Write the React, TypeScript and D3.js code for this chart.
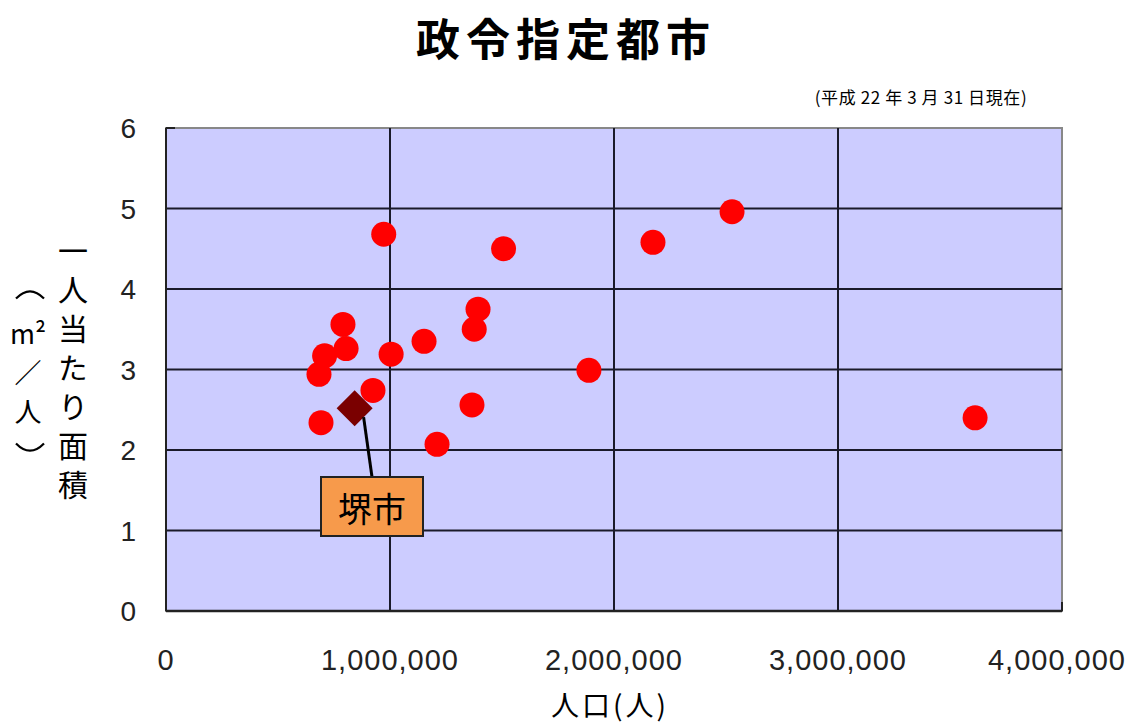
import React from "react";
import * as d3 from "d3";

// Ordinance-designated cities: population vs. per-capita area (m² per person)
const population = [
  683000, 708000, 692000, 790000, 804000, 924000, 972000, 1005000, 1152000,
  1210000, 1366000, 1376000, 1393000, 1507000, 1888000, 2174000, 2527000, 3612000,
];
const areaPerPerson = [
  2.94, 3.17, 2.34, 3.56, 3.26, 2.74, 4.68, 3.19, 3.35,
  2.07, 2.56, 3.50, 3.75, 4.50, 2.99, 4.58, 4.96, 2.40,
];
const sakaiPopulation = [842000];
const sakaiArea = [2.52];
const sakaiLabel = "堺市";

const xTicks = [0, 1000000, 2000000, 3000000, 4000000];
const yTicks = [0, 1, 2, 3, 4, 5, 6];

const title = "政令指定都市";
const note = "(平成 22 年 3 月 31 日現在)";
const xTitle = "人口(人)";
const yTitleMain = "一人当たり面積";
const yTitleUnit = ["m²", "／", "人"];

const W = 1131;
const H = 727;
const plot = { left: 166, right: 1062, top: 128, bottom: 611 };
const cjk = "'Noto Sans CJK JP', 'Noto Sans', sans-serif";
const num = "'Liberation Sans', Arial, sans-serif";

// vertical-form bracket (opening arch above, closing arch below the unit)
function bracket(cx: number, cy: number, up: boolean) {
  const p = d3.path();
  const h = up ? -9 : 9;
  p.moveTo(cx - 14, cy - h / 2);
  p.quadraticCurveTo(cx, cy + h * 1.1, cx + 14, cy - h / 2);
  return p.toString();
}

export default function App() {
  const x = d3.scaleLinear().domain([0, 4000000]).range([plot.left, plot.right]);
  const y = d3.scaleLinear().domain([0, 6]).range([plot.bottom, plot.top]);
  const fmt = d3.format(",");

  const sx = x(sakaiPopulation[0]);
  const sy = y(sakaiArea[0]);
  const d = 18;
  const diamond = `M${sx},${sy - d}L${sx + d},${sy}L${sx},${sy + d}L${sx - d},${sy}Z`;

  const box = { x: 321, y: 477, w: 102, h: 59 };

  return (
    <svg
      width={W}
      height={H}
      style={{ position: "absolute", left: 0, top: 0, display: "block", background: "#fff" }}
    >
      <text x={566} y={56} textAnchor="middle" fontFamily={cjk} fontWeight="bold" fontSize={44} letterSpacing={6} fill="#000">
        {title}
      </text>
      <text x={921} y={104} textAnchor="middle" fontFamily={cjk} fontSize={17} letterSpacing={0.6} fill="#000">
        {note}
      </text>

      <rect x={plot.left} y={plot.top} width={plot.right - plot.left} height={plot.bottom - plot.top} fill="#CCCCFF" stroke="#888" strokeWidth={2} />

      {yTicks.slice(1, -1).map((t) => (
        <line key={"gy" + t} x1={plot.left} x2={plot.right} y1={y(t)} y2={y(t)} stroke="#1a1a2a" strokeWidth={2} />
      ))}
      {xTicks.slice(1, -1).map((t) => (
        <line key={"gx" + t} x1={x(t)} x2={x(t)} y1={plot.top} y2={plot.bottom} stroke="#1a1a2a" strokeWidth={2} />
      ))}
      <line x1={plot.left} x2={plot.left} y1={plot.top} y2={plot.bottom} stroke="#222" strokeWidth={2} />
      <line x1={plot.left} x2={plot.right} y1={plot.bottom} y2={plot.bottom} stroke="#222" strokeWidth={2.5} />
      <line x1={plot.left} x2={plot.left + 9} y1={plot.top} y2={plot.top} stroke="#222" strokeWidth={2} />
      <line x1={plot.right} x2={plot.right} y1={plot.bottom - 9} y2={plot.bottom} stroke="#222" strokeWidth={2} />

      {yTicks.map((t) => (
        <text key={"ty" + t} x={136} y={y(t) + 10} textAnchor="end" fontFamily={num} fontSize={28} fill="#222">
          {t}
        </text>
      ))}
      {xTicks.map((t) => (
        <text
          key={"tx" + t}
          x={x(t) - (t === 4000000 ? 5 : 0)}
          y={670}
          textAnchor="middle"
          fontFamily={num}
          fontSize={29}
          letterSpacing={1}
          fill="#222"
        >
          {fmt(t)}
        </text>
      ))}

      {population.map((p, i) => (
        <circle key={"pt" + i} cx={x(p)} cy={y(areaPerPerson[i])} r={12.5} fill="#FF0000" />
      ))}

      <path d={diamond} fill="#7A0000" />
      <line x1={sx + 9} y1={sy + 9} x2={box.x + 51} y2={box.y} stroke="#000" strokeWidth={3} />
      <rect x={box.x} y={box.y} width={box.w} height={box.h} fill="#F79A4B" stroke="#222" strokeWidth={2} />
      <text x={box.x + box.w / 2} y={box.y + 45} textAnchor="middle" fontFamily={cjk} fontSize={34} fill="#000">
        {sakaiLabel}
      </text>

      <text x={610} y={716} textAnchor="middle" fontFamily={cjk} fontSize={28} letterSpacing={3} fill="#000">
        {xTitle}
      </text>

      <text
        x={73}
        y={236}
        fontFamily={cjk}
        fontSize={30}
        letterSpacing={9}
        style={{ writingMode: "vertical-rl" }}
        fill="#000"
      >
        {yTitleMain}
      </text>

      <path d={bracket(30, 294, true)} fill="none" stroke="#000" strokeWidth={2.2} />
      {yTitleUnit.map((c, i) => (
        <text
          key={"yu" + i}
          x={28}
          y={332 + i * 39}
          textAnchor="middle"
          dominantBaseline="central"
          fontFamily={cjk}
          fontSize={27}
          fill="#000"
        >
          {c}
        </text>
      ))}
      <path d={bracket(30, 448, false)} fill="none" stroke="#000" strokeWidth={2.2} />
    </svg>
  );
}
